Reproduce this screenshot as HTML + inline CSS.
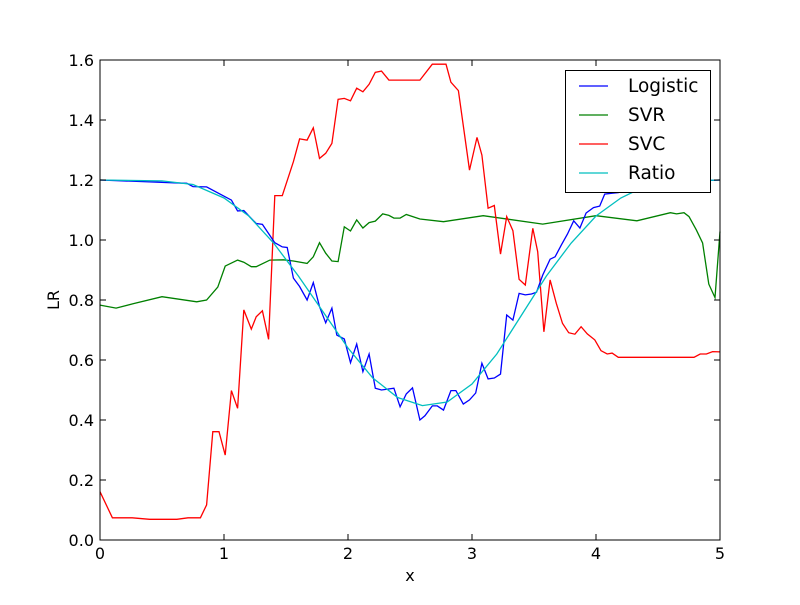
<!DOCTYPE html>
<html><head><meta charset="utf-8"><style>
html,body{margin:0;padding:0;background:#fff}
svg text{font-family:"DejaVu Sans","Liberation Sans",sans-serif;font-size:16px;fill:#000}
svg text.leg{font-size:18.5px}
</style></head><body>
<svg id="chart" width="800" height="600" viewBox="0 0 800 600" xmlns="http://www.w3.org/2000/svg">
<rect width="800" height="600" fill="#fff"/>
<g id="plot"></g>
<rect x="100" y="60" width="620" height="480" fill="none" stroke="#000" stroke-width="1"/>
<g id="ticks"></g>
<text x="410" y="581" text-anchor="middle">x</text>
<text x="59" y="300" text-anchor="middle" transform="rotate(-90 59 300)">LR</text>
<g>
<rect x="565.5" y="70.5" width="145" height="122" fill="#fff" stroke="#000" stroke-width="1"/>
<line x1="579" y1="86" x2="608" y2="86" stroke="#0000ff" stroke-width="1.3"/>
<text class="leg" x="628" y="92">Logistic</text>
<line x1="579" y1="115" x2="608" y2="115" stroke="#008000" stroke-width="1.3"/>
<text class="leg" x="628" y="121">SVR</text>
<line x1="579" y1="144" x2="608" y2="144" stroke="#ff0000" stroke-width="1.3"/>
<text class="leg" x="628" y="150">SVC</text>
<line x1="579" y1="173" x2="608" y2="173" stroke="#00bfbf" stroke-width="1.3"/>
<text class="leg" x="628" y="179">Ratio</text>
</g>
</svg>
<script>
const xTicks = [0,1,2,3,4,5];
const yTicks = [0.0,0.2,0.4,0.6,0.8,1.0,1.2,1.4,1.6];
const xTickLabels = ["0","1","2","3","4","5"];
const yTickLabels = ["0.0","0.2","0.4","0.6","0.8","1.0","1.2","1.4","1.6"];
const ratioX = [0,0.5,0.75,1.0,1.2,1.4,1.6,1.8,2.0,2.2,2.4,2.6,2.8,3.0,3.2,3.4,3.6,3.8,4.0,4.2,4.4,4.6,5];
const ratioY = [1.2,1.197,1.185,1.14,1.08,0.99,0.88,0.76,0.64,0.54,0.475,0.448,0.46,0.52,0.62,0.75,0.88,0.99,1.08,1.14,1.18,1.195,1.2];
const logX = [0,0.70,0.75,0.86,1.01,1.06,1.11,1.16,1.26,1.31,1.41,1.47,1.51,1.56,1.61,1.67,1.72,1.77,1.82,1.87,1.91,1.97,2.02,2.07,2.12,2.17,2.22,2.27,2.37,2.42,2.47,2.52,2.58,2.62,2.68,2.72,2.77,2.83,2.87,2.93,2.98,3.03,3.08,3.13,3.18,3.23,3.28,3.33,3.38,3.43,3.48,3.52,3.57,3.63,3.67,3.72,3.77,3.82,3.87,3.92,3.98,4.03,4.07,4.13,4.18,4.4,4.7,5];
const logY = [1.2,1.189,1.178,1.177,1.144,1.133,1.097,1.098,1.055,1.052,0.991,0.977,0.975,0.873,0.845,0.8,0.858,0.778,0.724,0.773,0.683,0.67,0.591,0.653,0.561,0.62,0.506,0.5,0.506,0.444,0.487,0.507,0.4,0.414,0.447,0.447,0.433,0.498,0.498,0.453,0.467,0.49,0.589,0.537,0.54,0.553,0.75,0.733,0.822,0.817,0.82,0.826,0.883,0.936,0.944,0.983,1.02,1.064,1.04,1.09,1.108,1.113,1.153,1.156,1.158,1.185,1.195,1.2];
const svrX = [0,0.13,0.27,0.5,0.78,0.86,0.95,1.01,1.11,1.16,1.22,1.26,1.37,1.48,1.56,1.67,1.72,1.77,1.82,1.87,1.92,1.97,2.02,2.07,2.12,2.17,2.22,2.28,2.33,2.37,2.42,2.47,2.58,2.77,3.09,3.57,4.0,4.33,4.6,4.65,4.71,4.75,4.81,4.86,4.91,4.96,5.0];
const svrY = [0.783,0.773,0.788,0.811,0.794,0.80,0.843,0.913,0.933,0.926,0.911,0.911,0.933,0.934,0.93,0.922,0.944,0.991,0.956,0.93,0.928,1.044,1.03,1.067,1.04,1.058,1.063,1.087,1.082,1.073,1.073,1.085,1.07,1.061,1.081,1.053,1.081,1.064,1.091,1.087,1.091,1.078,1.033,0.99,0.853,0.808,1.028];
const svcX = [0,0.1,0.26,0.4,0.62,0.71,0.81,0.86,0.91,0.96,1.01,1.06,1.11,1.16,1.22,1.26,1.31,1.36,1.41,1.47,1.56,1.61,1.67,1.72,1.77,1.82,1.87,1.92,1.97,2.02,2.07,2.12,2.17,2.22,2.27,2.33,2.58,2.68,2.79,2.83,2.89,2.94,2.98,3.04,3.08,3.13,3.18,3.23,3.28,3.33,3.38,3.43,3.49,3.53,3.58,3.63,3.68,3.73,3.78,3.83,3.88,3.93,3.99,4.04,4.09,4.13,4.18,4.79,4.84,4.89,4.94,5];
const svcY = [0.161,0.074,0.074,0.069,0.069,0.074,0.074,0.117,0.361,0.361,0.283,0.498,0.439,0.767,0.703,0.744,0.764,0.669,1.148,1.148,1.261,1.337,1.333,1.374,1.272,1.289,1.322,1.469,1.472,1.464,1.506,1.494,1.519,1.559,1.563,1.533,1.533,1.586,1.586,1.526,1.498,1.35,1.233,1.342,1.283,1.106,1.115,0.953,1.078,1.031,0.869,0.85,1.039,0.961,0.694,0.867,0.789,0.722,0.691,0.686,0.711,0.687,0.667,0.631,0.62,0.623,0.609,0.609,0.62,0.62,0.628,0.627];

const NS = "http://www.w3.org/2000/svg";
function sx(v){ return 100 + v*124; }
function sy(v){ return 540 - v*300; }
const plot = document.getElementById('plot');
const ticks = document.getElementById('ticks');
function addLine(xs, ys, color, name){
  const p = document.createElementNS(NS,'polyline');
  p.setAttribute('points', xs.map((x,i)=>sx(x).toFixed(1)+','+sy(ys[i]).toFixed(1)).join(' '));
  p.setAttribute('fill','none');
  p.setAttribute('stroke',color);
  p.setAttribute('stroke-width','1.3');
  
  
  plot.appendChild(p);
}
addLine(svrX, svrY, '#008000', 'svr-line');
addLine(svcX, svcY, '#ff0000', 'svc-line');
addLine(logX, logY, '#0000ff', 'logistic-line');
addLine(ratioX, ratioY, '#00bfbf', 'ratio-line');
function seg(x1,y1,x2,y2){
  const l = document.createElementNS(NS,'line');
  l.setAttribute('x1',x1);l.setAttribute('y1',y1);l.setAttribute('x2',x2);l.setAttribute('y2',y2);
  l.setAttribute('stroke','#000');l.setAttribute('stroke-width','1');
  
  
  ticks.appendChild(l);
}
xTicks.forEach((v,i)=>{
  const x = sx(v);
  seg(x,540,x,534); seg(x,60,x,66);
  const t = document.createElementNS(NS,'text');
  t.setAttribute('x',x); t.setAttribute('y',559); t.setAttribute('text-anchor','middle');
  
  
  t.textContent = xTickLabels[i];
  ticks.appendChild(t);
});
yTicks.forEach((v,i)=>{
  const y = sy(v);
  seg(100,y,106,y); seg(720,y,714,y);
  const t = document.createElementNS(NS,'text');
  t.setAttribute('x',94); t.setAttribute('y',y+6); t.setAttribute('text-anchor','end');
  
  
  t.textContent = yTickLabels[i];
  ticks.appendChild(t);
});
</script>
</body></html>
